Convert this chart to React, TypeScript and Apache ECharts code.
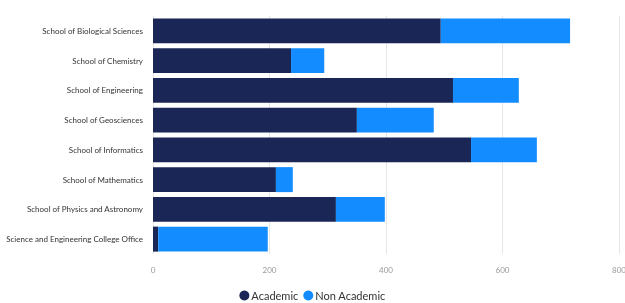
import React, { useEffect, useRef } from "react";
import * as echarts from "echarts";

const categories = [
  "School of Biological Sciences",
  "School of Chemistry",
  "School of Engineering",
  "School of Geosciences",
  "School of Informatics",
  "School of Mathematics",
  "School of Physics and Astronomy",
  "Science and Engineering College Office",
];
const academic = [494, 237, 515, 350, 546, 211, 314, 9];
const nonAcademic = [222, 57, 113, 132, 113, 29, 84, 188];
const xTicks = [0, 200, 400, 600, 800];

export default function App() {
  const ref = useRef<HTMLDivElement>(null);
  useEffect(() => {
    const chart = echarts.init(ref.current!, null, { renderer: "svg" });
    const font = "Lato, 'Open Sans', sans-serif";
    chart.setOption({
      animation: false,
      textStyle: { fontFamily: font },
      grid: {
        left: 153,
        right: 6,
        top: 16,
        bottom: 49,
        containLabel: false,
        outerBoundsMode: "none",
      },
      legend: {
        bottom: -3,
        left: "center",
        icon: "circle",
        itemWidth: 10,
        itemHeight: 10,
        itemGap: 5,
        textStyle: { fontSize: 11, color: "#333", fontFamily: font, padding: [0, 0, 0, -3] },
        data: ["Academic", "Non Academic"],
      },
      xAxis: {
        type: "value",
        min: xTicks[0],
        max: xTicks[xTicks.length - 1],
        interval: 200,
        axisLine: { show: false },
        axisTick: { show: false },
        splitLine: { lineStyle: { color: "#e6e6e6" } },
        axisLabel: { color: "#999", fontSize: 8, margin: 12, fontFamily: font },
      },
      yAxis: {
        type: "category",
        data: categories,
        inverse: true,
        axisLine: { show: false },
        axisTick: { show: false },
        axisLabel: { color: "#333", fontSize: 8, margin: 10, fontFamily: font },
      },
      series: [
        {
          name: "Academic",
          type: "bar",
          stack: "total",
          data: academic,
          barCategoryGap: "16%",
          itemStyle: { color: "#1a2656" },
        },
        {
          name: "Non Academic",
          type: "bar",
          stack: "total",
          data: nonAcademic,
          barCategoryGap: "16%",
          itemStyle: { color: "#138cff" },
        },
      ],
    });
    return () => chart.dispose();
  }, []);
  return (
    <div
      ref={ref}
      style={{ position: "fixed", left: 0, top: 0, width: 625, height: 303 }}
    />
  );
}
